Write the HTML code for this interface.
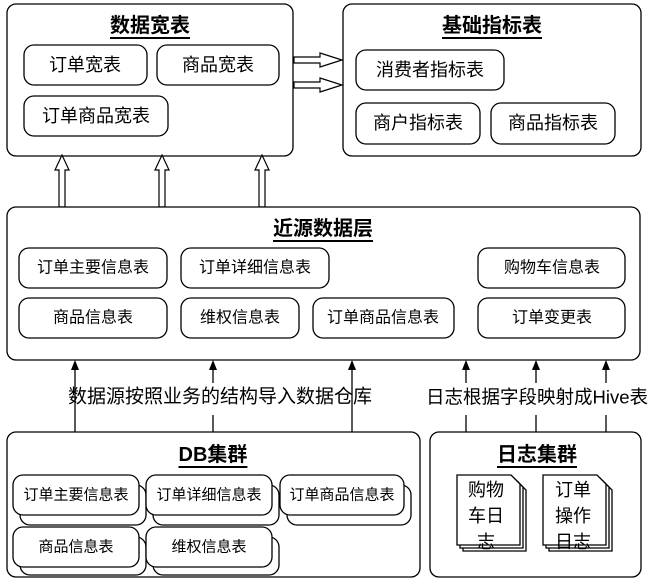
<!DOCTYPE html>
<html><head><meta charset="utf-8"><style>
html,body{margin:0;padding:0;background:#fff}
svg{display:block}
text{font-family:"Liberation Sans","Noto Sans CJK SC",sans-serif;fill:#000}
.b{fill:#fff;stroke:#000;stroke-width:1.3}
.t{font-size:18px;text-anchor:middle;dominant-baseline:central}
.s{font-size:15px;text-anchor:middle;dominant-baseline:central}
.h{font-size:20px;font-weight:bold;text-anchor:middle;dominant-baseline:central;text-decoration:underline}
</style></head><body>
<svg width="650" height="584" viewBox="0 0 650 584" xmlns="http://www.w3.org/2000/svg">
<rect class="b" x="7" y="4" width="286" height="152" rx="9"/>
<text class="h" x="150" y="26">数据宽表</text>
<rect class="b" x="24" y="45" width="123" height="40" rx="10"/><text class="t" x="85" y="65">订单宽表</text>
<rect class="b" x="157" y="45" width="122" height="40" rx="10"/><text class="t" x="218" y="65">商品宽表</text>
<rect class="b" x="24" y="96" width="144" height="40" rx="10"/><text class="t" x="96" y="116">订单商品宽表</text>
<rect class="b" x="343" y="4" width="298" height="152" rx="9"/>
<text class="h" x="492" y="26">基础指标表</text>
<rect class="b" x="356" y="50" width="148" height="40" rx="10"/><text class="t" x="430" y="70">消费者指标表</text>
<rect class="b" x="356" y="103" width="124" height="41" rx="10"/><text class="t" x="418" y="123">商户指标表</text>
<rect class="b" x="491" y="103" width="124" height="41" rx="10"/><text class="t" x="553" y="123">商品指标表</text>
<g fill="#fff" stroke="#000" stroke-width="1.2">
<path d="M294 57 H320 V53 L342 60 L320 67 V63 H294 Z"/>
<path d="M294 82 H320 V78 L342 85 L320 92 V88 H294 Z"/>
<path d="M59 207 V170 H55 L62 155 L69 170 H65 V207 Z"/>
<path d="M159 207 V170 H155 L162 155 L169 170 H165 V207 Z"/>
<path d="M259 207 V170 H255 L262 155 L269 170 H265 V207 Z"/>
</g>
<rect class="b" x="7" y="207" width="633" height="153" rx="9"/>
<text class="h" x="323" y="229">近源数据层</text>
<rect class="b" x="19" y="248" width="148" height="40" rx="10"/><text class="t" x="93" y="268" style="font-size:16px">订单主要信息表</text>
<rect class="b" x="181" y="248" width="148" height="40" rx="10"/><text class="t" x="255" y="268" style="font-size:16px">订单详细信息表</text>
<rect class="b" x="478" y="248" width="147" height="40" rx="10"/><text class="t" x="552" y="268" style="font-size:16px">购物车信息表</text>
<rect class="b" x="19" y="298" width="148" height="40" rx="10"/><text class="t" x="93" y="318" style="font-size:16px">商品信息表</text>
<rect class="b" x="181" y="298" width="118" height="40" rx="10"/><text class="t" x="240" y="318" style="font-size:16px">维权信息表</text>
<rect class="b" x="313" y="298" width="141" height="40" rx="10"/><text class="t" x="383" y="318" style="font-size:16px">订单商品信息表</text>
<rect class="b" x="478" y="298" width="147" height="40" rx="10"/><text class="t" x="552" y="318" style="font-size:16px">订单变更表</text>
<g stroke="#000" stroke-width="1.3">
<line x1="75" y1="432" x2="75" y2="368"/>
<line x1="352" y1="432" x2="352" y2="368"/>
<line x1="213" y1="432" x2="213" y2="415"/><line x1="213" y1="383" x2="213" y2="368"/>
<line x1="466" y1="432" x2="466" y2="415"/><line x1="466" y1="383" x2="466" y2="368"/>
<line x1="536" y1="432" x2="536" y2="415"/><line x1="536" y1="383" x2="536" y2="368"/>
<line x1="606" y1="432" x2="606" y2="415"/><line x1="606" y1="383" x2="606" y2="368"/>
</g>
<g fill="#000">
<path d="M71 370 L75 360 L79 370 Z"/><path d="M209 370 L213 360 L217 370 Z"/><path d="M348 370 L352 360 L356 370 Z"/>
<path d="M462 370 L466 360 L470 370 Z"/><path d="M532 370 L536 360 L540 370 Z"/><path d="M602 370 L606 360 L610 370 Z"/>
</g>
<text x="220" y="397" class="t" style="font-size:19px">数据源按照业务的结构导入数据仓库</text>
<text x="537" y="397" class="t" style="font-size:18.5px">日志根据字段映射成Hive表</text>
<rect class="b" x="7" y="432" width="413" height="145" rx="9"/>
<text class="h" x="213" y="455">DB集群</text>
<g>
<rect class="b" x="20" y="485" width="126" height="40" rx="10"/><rect class="b" x="13" y="475" width="126" height="40" rx="10"/><text class="s" x="76" y="495">订单主要信息表</text>
<rect class="b" x="153" y="485" width="126" height="40" rx="10"/><rect class="b" x="146" y="475" width="126" height="40" rx="10"/><text class="s" x="209" y="495">订单详细信息表</text>
<rect class="b" x="287" y="485" width="124" height="40" rx="10"/><rect class="b" x="280" y="475" width="124" height="40" rx="10"/><text class="s" x="342" y="495">订单商品信息表</text>
<rect class="b" x="20" y="537" width="126" height="38" rx="10"/><rect class="b" x="13" y="527" width="126" height="40" rx="10"/><text class="s" x="76" y="547">商品信息表</text>
<rect class="b" x="153" y="537" width="126" height="38" rx="10"/><rect class="b" x="146" y="527" width="126" height="40" rx="10"/><text class="s" x="209" y="547">维权信息表</text>
</g>
<rect class="b" x="430" y="432" width="211" height="145" rx="9"/>
<text class="h" x="537" y="455">日志集群</text>
<g>
<path class="b" d="M463 481 H517 L526 490 V551 H463 Z"/>
<path class="b" d="M460 478 H514 L523 487 V548 H460 Z"/>
<path class="b" d="M457 475 H511 L520 484 V545 H457 Z"/>
<path class="b" d="M549 481 H603 L612 490 V551 H549 Z"/>
<path class="b" d="M546 478 H600 L609 487 V548 H546 Z"/>
<path class="b" d="M543 475 H597 L606 484 V545 H543 Z"/>
</g>
<text class="t" x="486" y="490">购物</text><text class="t" x="486" y="516">车日</text><text class="t" x="486" y="542">志</text>
<text class="t" x="573" y="490">订单</text><text class="t" x="573" y="516">操作</text><text class="t" x="573" y="542">日志</text>
</svg>
</body></html>
